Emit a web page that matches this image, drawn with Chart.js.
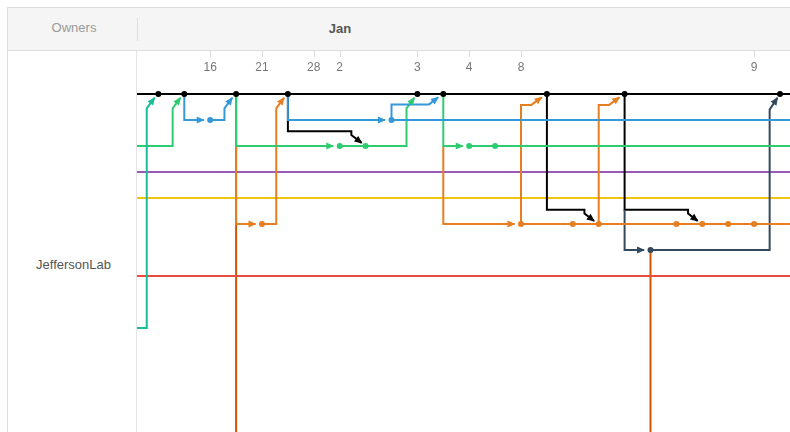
<!DOCTYPE html>
<html>
<head>
<meta charset="utf-8">
<script src="https://cdn.jsdelivr.net/npm/chart.js@4.4.1/dist/chart.umd.min.js"></script>
<style>
  body { margin: 0; background: #fff; font-family: "Liberation Sans", Arial, sans-serif; overflow: hidden; }
  .abs { position: absolute; }
  #head { left: 7px; top: 7px; width: 800px; height: 42px; background: #f5f5f5;
          border-top: 1px solid #ddd; border-left: 1px solid #ddd; border-bottom: 1px solid #ddd; }
  #leftBorder { left: 7px; top: 51px; width: 1px; height: 400px; background: #ddd; }
  #headDivider { left: 137px; top: 18px; width: 1px; height: 23px; background: #ddd; }
  #bodyDivider { left: 136px; top: 51px; width: 1px; height: 400px; background: #e5e5e5; }
  #owners { left: 8px; top: 20px; width: 132px; text-align: center; color: #999; font-size: 13px; }
  #month { left: 300px; top: 21px; width: 80px; text-align: center; color: #555; font-size: 13px; font-weight: bold; }
  #owner { left: 8px; top: 257px; width: 131px; text-align: center; color: #555; font-size: 13px; }
  #wrap { left: 137px; top: 51px; width: 653px; height: 381px; }
</style>
</head>
<body>
<div id="head" class="abs"></div>
<div id="leftBorder" class="abs"></div>
<div id="headDivider" class="abs"></div>
<div id="bodyDivider" class="abs"></div>
<div id="owners" class="abs">Owners</div>
<div id="month" class="abs">Jan</div>
<div id="owner" class="abs">JeffersonLab</div>
<div id="wrap" class="abs"><canvas id="network" width="653" height="381"></canvas></div>
<script>
// date ticks (commit column -> day of month)
const dateCols = [3, 5, 7, 8, 11, 13, 15, 24];
const dateLabels = ['16', '21', '28', '2', '3', '4', '8', '9'];

// commits per branch (column index)
const masterCommits = [1, 2, 4, 6, 11, 12, 16, 19, 25];
const blueCommits = [3, 10];
const greenCommits = [8, 9, 13, 14];
const orangeCommits = [5, 15, 17, 18, 21, 22, 23, 24];
const slateCommits = [20];

// lanes (rows)
const masterRow = 0, blueRow = 1, greenRow = 2, purpleRow = 3, yellowRow = 4;
const orangeRow = 5, slateRow = 6, redRow = 7, tealRow = 9, deepRow = 14;

const START = 0.17, END = 26;

// branch paths, [column, row]
const deepA = [[4, 0], [4, deepRow]];
const deepB = [[20, slateRow], [20, deepRow]];
const purpleLane = [[START, purpleRow], [END, purpleRow]];
const yellowLane = [[START, yellowRow], [END, yellowRow]];
const redLane = [[START, redRow], [END, redRow]];
const masterLane = [[START, masterRow], [END, masterRow]];
const blackMerge1 = [[6, 0], [6, 1.43], [8.45, 1.43], [8.45, 1.58], [8.85, 1.88]];
const blackMerge2 = [[16, 0], [16, 4.45], [17.45, 4.45], [17.45, 4.6], [17.82, 4.88]];
const blackMerge3 = [[19, 0], [19, 4.45], [21.45, 4.45], [21.45, 4.6], [21.82, 4.88]];
const slateA = [[19, 4.45], [19, slateRow], [19.75, slateRow]];
const slateB = [[20, slateRow], [24.6, slateRow], [24.6, 0.6], [24.9, 0.15]];
const orangeA = [[4, 0], [4, orangeRow], [4.75, orangeRow]];
const orangeB = [[5, orangeRow], [5.55, orangeRow], [5.55, 0.55], [5.85, 0.15]];
const orangeC = [[12, 2], [12, orangeRow], [14.75, orangeRow]];
const orangeD = [[15, orangeRow], [END, orangeRow]];
const orangeE = [[15, orangeRow], [15, 0.42], [15.4, 0.42], [15.8, 0.13]];
const orangeF = [[18, orangeRow], [18, 0.42], [18.4, 0.42], [18.8, 0.13]];
const greenA = [[START, greenRow], [1.55, greenRow], [1.55, 0.55], [1.85, 0.15]];
const greenB = [[4, 0], [4, greenRow], [7.75, greenRow]];
const greenC = [[8, greenRow], [10.58, greenRow], [10.58, 0.55], [10.88, 0.15]];
const greenD = [[12, 0], [12, greenRow], [12.75, greenRow]];
const greenE = [[13, greenRow], [END, greenRow]];
const blueA = [[2, 0], [2, blueRow], [2.75, blueRow]];
const blueB = [[3, blueRow], [3.55, blueRow], [3.55, 0.55], [3.85, 0.15]];
const blueC = [[6, 0], [6, blueRow], [9.75, blueRow]];
const blueD = [[10, blueRow], [END, blueRow]];
const blueE = [[10, blueRow], [10, 0.4], [11.45, 0.4], [11.8, 0.13]];
const tealA = [[START, tealRow], [0.55, tealRow], [0.55, 0.55], [0.85, 0.15]];

const BLACK = '#000000', BLUE = '#3498db', GREEN = '#2ecc71', PURPLE = '#9b59b6', YELLOW = '#f1c40f';
const ORANGE = '#e67e22', DEEP = '#d35400', SLATE = '#34495e', RED = '#e74c3c', TEAL = '#1abc9c';

// bottom to top
const paths = [
  [deepA, DEEP, false], [deepB, DEEP, false],
  [purpleLane, PURPLE, false], [yellowLane, YELLOW, false], [redLane, RED, false],
  [masterLane, BLACK, false],
  [blackMerge1, BLACK, true], [blackMerge2, BLACK, true], [blackMerge3, BLACK, true],
  [slateA, SLATE, true], [slateB, SLATE, true],
  [orangeA, ORANGE, true], [orangeB, ORANGE, true], [orangeC, ORANGE, true], [orangeD, ORANGE, false],
  [orangeE, ORANGE, true], [orangeF, ORANGE, true],
  [greenA, GREEN, true], [greenB, GREEN, true], [greenC, GREEN, true], [greenD, GREEN, true], [greenE, GREEN, false],
  [blueA, BLUE, true], [blueB, BLUE, true], [blueC, BLUE, true], [blueD, BLUE, false], [blueE, BLUE, true],
  [tealA, TEAL, true]
];
const dots = [
  [masterCommits, masterRow, BLACK], [blueCommits, blueRow, BLUE], [greenCommits, greenRow, GREEN],
  [orangeCommits, orangeRow, ORANGE], [slateCommits, slateRow, SLATE]
];

const datasets = [];
paths.forEach(([pts, color, arrow]) => {
  datasets.push({
    data: pts.map(p => ({ x: p[0], y: p[1] })),
    borderColor: color, borderWidth: 2, pointRadius: 0, showLine: true,
    tension: 0, fill: false, arrow: arrow
  });
});
dots.forEach(([cols, row, color]) => {
  datasets.push({
    data: cols.map(c => ({ x: c, y: row })),
    showLine: false, pointRadius: 3, pointBackgroundColor: color, pointBorderWidth: 0,
    borderColor: color, pointHoverRadius: 3
  });
});
datasets.forEach((ds, i) => { ds.order = datasets.length - i; });

const arrowHeads = {
  id: 'arrowHeads',
  afterDatasetsDraw(chart) {
    const { ctx, chartArea, scales: { x, y } } = chart;
    ctx.save();
    ctx.beginPath();
    ctx.rect(chartArea.left, chartArea.top, chartArea.right - chartArea.left, chartArea.bottom - chartArea.top);
    ctx.clip();
    chart.data.datasets.forEach(ds => {
      if (!ds.arrow) return;
      const n = ds.data.length;
      const a = ds.data[n - 2], b = ds.data[n - 1];
      const x1 = x.getPixelForValue(a.x), y1 = y.getPixelForValue(a.y);
      const x2 = x.getPixelForValue(b.x), y2 = y.getPixelForValue(b.y);
      ctx.save();
      ctx.translate(x2, y2);
      ctx.rotate(Math.atan2(y2 - y1, x2 - x1));
      ctx.beginPath();
      ctx.moveTo(1, 0);
      ctx.lineTo(-7, -3.5);
      ctx.lineTo(-7, 3.5);
      ctx.closePath();
      ctx.fillStyle = ds.borderColor;
      ctx.fill();
      ctx.restore();
    });
    ctx.restore();
  }
};

const tickMarks = {
  id: 'tickMarks',
  afterDraw(chart) {
    const { ctx, scales: { x } } = chart;
    ctx.save();
    ctx.strokeStyle = '#dddddd';
    ctx.lineWidth = 1;
    x.ticks.forEach(t => {
      const px = Math.round(x.getPixelForValue(t.value)) + 0.5;
      ctx.beginPath();
      ctx.moveTo(px, 0);
      ctx.lineTo(px, 6);
      ctx.stroke();
    });
    ctx.restore();
  }
};

new Chart(document.getElementById('network'), {
  type: 'line',
  data: { datasets: datasets },
  options: {
    responsive: false,
    animation: false,
    events: [],
    layout: { padding: 0, autoPadding: false },
    plugins: { legend: { display: false }, tooltip: { enabled: false } },
    scales: {
      x: {
        type: 'linear', position: 'top', min: 0.174, max: 25.386,
        grid: { display: false, drawTicks: false }, border: { display: false },
        afterBuildTicks: (scale) => { scale.ticks = dateCols.map(v => ({ value: v })); },
        ticks: {
          autoSkip: false, maxRotation: 0, padding: 9, color: '#777',
          font: { family: '"Liberation Sans", Arial, sans-serif', size: 12 },
          callback: (v) => dateLabels[dateCols.indexOf(v)]
        }
      },
      y: { type: 'linear', display: false, reverse: true, min: -0.408, max: 13 }
    }
  },
  plugins: [arrowHeads, tickMarks]
});
</script>
</body>
</html>
